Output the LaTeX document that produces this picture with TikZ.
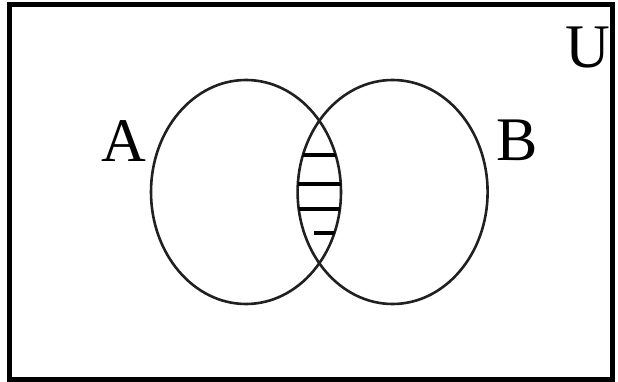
\documentclass[tikz,border=0pt]{standalone}
\usepackage{fontspec}
\setmainfont{Liberation Serif}
\usetikzlibrary{positioning}

\begin{document}
\begin{tikzpicture}[
  x=1pt, y=-1pt,
  setline/.style={draw, line width=2.6pt, gray!25!black},
  hatch/.style={line width=3.2pt, black},
  lbl/.style={font=\fontsize{62}{62}\selectfont, inner sep=0pt}
]

\useasboundingbox (0,0) rectangle (618,382);
\draw[line width=5pt] (9,5) rectangle (612,379);

% the two sets
\draw[setline] (246,192) ellipse [x radius=95, y radius=112];
\draw[setline] (392.6,192) ellipse [x radius=95, y radius=112];

\node[lbl] (labA) at (124,141) {A};
\node[lbl] (labB) at (517,140) {B};
\node[lbl] (labU) at (588,48) {U};

% hatched intersection
\begin{scope}
  \clip (246,192) ellipse [x radius=95, y radius=112];
  \clip (392.6,192) ellipse [x radius=95, y radius=112];
  \draw[hatch] (280,155) -- (360,155);
  \draw[hatch] (280,184) -- (360,184);
  \draw[hatch] (280,209) -- (360,209);
  \draw[hatch] (314,233) -- (360,233);
\end{scope}

\end{tikzpicture}
\end{document}
